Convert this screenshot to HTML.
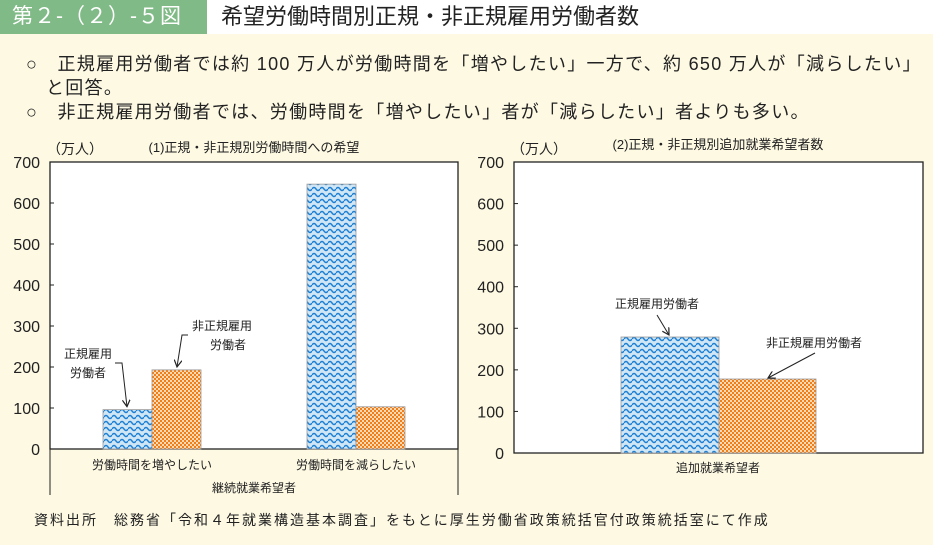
<!DOCTYPE html>
<html><head><meta charset="utf-8"><style>
body{margin:0;width:933px;height:545px;background:#fdf9e3;font-family:"Liberation Sans","Noto Sans CJK JP",sans-serif;position:relative;overflow:hidden}
.a{position:absolute;white-space:nowrap}
</style></head><body>
<div class="a" style="left:0;top:0;width:207px;height:34px;background:#80ba86;color:#fff;font-size:21px;line-height:34px;padding-left:12px;box-sizing:border-box;letter-spacing:1px">第２-（２）-５図</div>
<div class="a" style="left:207px;top:0;width:726px;height:34px;background:#fff;font-size:22px;line-height:34px;padding-left:14px;box-sizing:border-box;color:#222">希望労働時間別正規・非正規雇用労働者数</div>
<div class="a" style="left:26px;top:50px;font-size:18px;color:#222;letter-spacing:1.3px">○　正規雇用労働者では約 100 万人が労働時間を「増やしたい」一方で、約 650 万人が「減らしたい」</div>
<div class="a" style="left:46px;top:74px;font-size:18px;color:#222;letter-spacing:1.3px">と回答。</div>
<div class="a" style="left:26px;top:98px;font-size:18px;color:#222;letter-spacing:1.3px">○　非正規雇用労働者では、労働時間を「増やしたい」者が「減らしたい」者よりも多い。</div>
<div class="a" style="left:34px;top:510px;font-size:14px;color:#222;letter-spacing:2px">資料出所　総務省「令和４年就業構造基本調査」をもとに厚生労働省政策統括官付政策統括室にて作成</div>
<svg class="a" style="left:0;top:0" width="933" height="545" id="c">
<defs>
<pattern id="wave" width="8" height="6" patternUnits="userSpaceOnUse"><rect width="8" height="6" fill="#cfe6f7"/><path d="M0 3 Q2 0 4 3 T8 3" fill="none" stroke="#1f7fd0" stroke-width="1.5"/></pattern>
<pattern id="chk" width="4" height="4" patternUnits="userSpaceOnUse"><rect width="4" height="4" fill="#fbd9b5"/><rect width="2" height="2" fill="#f07f1a"/><rect x="2" y="2" width="2" height="2" fill="#f07f1a"/></pattern>
<marker id="ar" markerWidth="8" markerHeight="8" refX="7" refY="4" orient="auto"><path d="M0 0 L7 4 L0 8" fill="none" stroke="#222" stroke-width="1.2"/></marker>
</defs>
</svg>
<script>
const cats1=["労働時間を増やしたい","労働時間を減らしたい"];
const regular1=[96,646];
const nonregular1=[193,103];
const cats2=["追加就業希望者"];
const regular2=[279,178];
const ticks=[0,100,200,300,400,500,600,700];
const s=document.getElementById('c');const NS='http://www.w3.org/2000/svg';
function el(t,a,txt){const e=document.createElementNS(NS,t);for(const k in a)e.setAttribute(k,a[k]);if(txt!=null)e.textContent=txt;s.appendChild(e);return e;}
function chart(x0,x1,y0,y1,name){
 const y=v=>y1-(v/700)*(y1-y0);
 const r=el('rect',{x:x0,y:y0,width:x1-x0,height:y1-y0,fill:'#fff',stroke:'#222','stroke-width':1.3});
 
 ticks.forEach(t=>{const l=el('line',{x1:x0,x2:x0+4,y1:y(t),y2:y(t),stroke:'#222'});
  const tx=el('text',{x:x0-10,y:y(t)+6,'text-anchor':'end','font-size':16,fill:'#222'},t);});
 const u=el('text',{x:x0-3,y:y0-8,'font-size':14,fill:'#222'},'（万人）');
 return y;
}
function bar(x,w,v,y,fill,name){const b=el('rect',{x:x,y:y(v),width:w,height:y(0)-y(v),fill:fill,stroke:'#999','stroke-width':0.8});}
// chart 1
const ya=chart(50,458,162,449,'chart1');
el('line',{x1:50,x2:50,y1:449,y2:495,stroke:'#222'});el('line',{x1:458,x2:458,y1:449,y2:495,stroke:'#222'});
const gw=204,bw=49;
cats1.forEach((c,i)=>{const cx=50+gw*(i+0.5);
 bar(cx-bw,bw,regular1[i],ya,'url(#wave)','bar-regular-'+i);
 bar(cx,bw,nonregular1[i],ya,'url(#chk)','bar-nonregular-'+i);
 const t=el('text',{x:cx,y:469,'text-anchor':'middle','font-size':12,fill:'#222'},c);});
let t=el('text',{x:254,y:492,'text-anchor':'middle','font-size':12,fill:'#222'},'継続就業希望者');
t=el('text',{x:254,y:152,'text-anchor':'middle','font-size':13,fill:'#222'},'(1)正規・非正規別労働時間への希望');
el('text',{x:88,y:358,'text-anchor':'middle','font-size':12,fill:'#222'},'正規雇用');el('text',{x:88,y:377,'text-anchor':'middle','font-size':12,fill:'#222'},'労働者');
el('path',{d:'M115 363 L122 363 L127 '+(ya(regular1[0])-3),fill:'none',stroke:'#222','marker-end':'url(#ar)'});
el('text',{x:222,y:330,'text-anchor':'middle','font-size':12,fill:'#222'},'非正規雇用');el('text',{x:228,y:349,'text-anchor':'middle','font-size':12,fill:'#222'},'労働者');
el('path',{d:'M188 335 L182 335 L177 '+(ya(nonregular1[0])-3),fill:'none',stroke:'#222','marker-end':'url(#ar)'});
// chart 2
const yb=chart(514,923,162,453,'chart2');
bar(621,98,regular2[0],yb,'url(#wave)','bar-regular-additional');
bar(719,97,regular2[1],yb,'url(#chk)','bar-nonregular-additional');
t=el('text',{x:718,y:472,'text-anchor':'middle','font-size':12,fill:'#222'},cats2[0]);
t=el('text',{x:718,y:149,'text-anchor':'middle','font-size':13,fill:'#222'},'(2)正規・非正規別追加就業希望者数');
el('text',{x:657,y:308,'text-anchor':'middle','font-size':12,fill:'#222'},'正規雇用労働者');
el('line',{x1:657,y1:315,x2:669,y2:yb(regular2[0])-2,stroke:'#222','marker-end':'url(#ar)'});
el('text',{x:814,y:347,'text-anchor':'middle','font-size':12,fill:'#222'},'非正規雇用労働者');
el('line',{x1:815,y1:353,x2:768,y2:yb(regular2[1])-1,stroke:'#222','marker-end':'url(#ar)'});
</script>
</body></html>
